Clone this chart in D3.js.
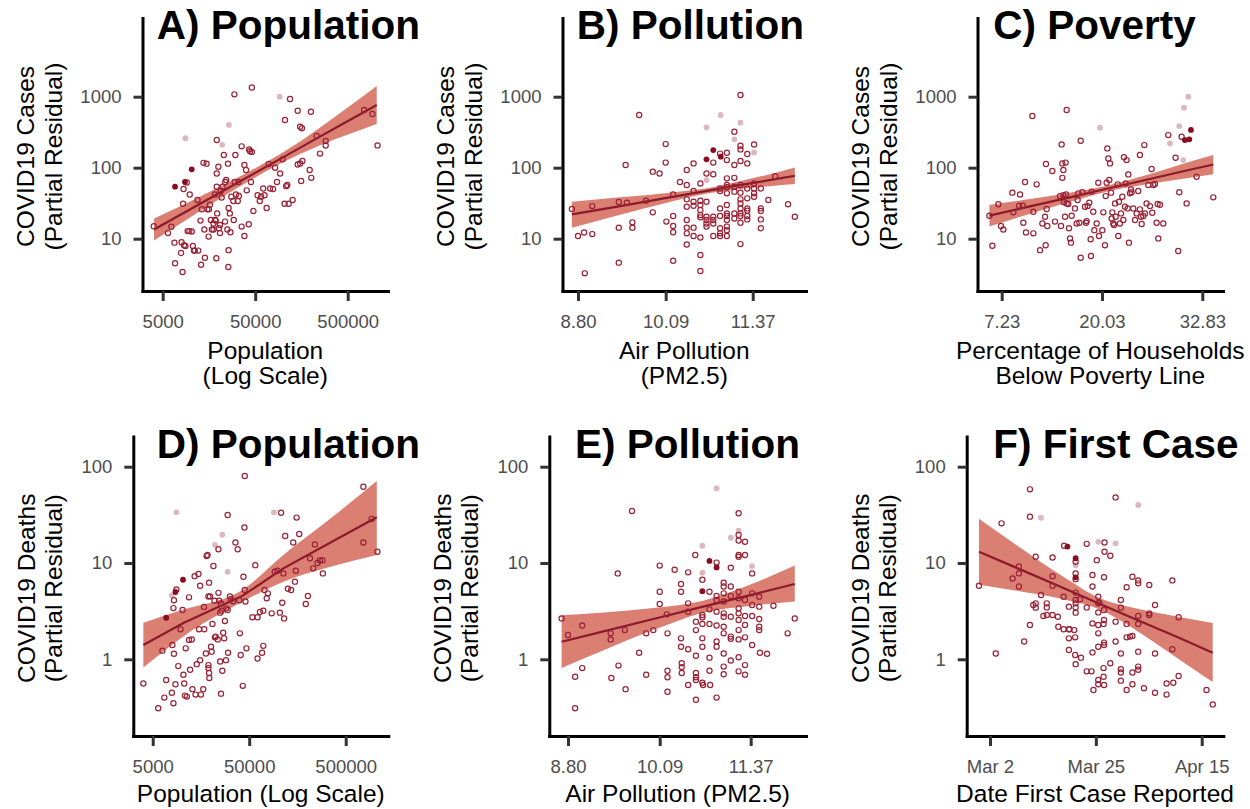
<!DOCTYPE html>
<html>
<head>
<meta charset="utf-8">
<script src="https://cdn.jsdelivr.net/npm/d3@7"></script>
<style>
  body { margin: 0; background: #fff; }
  svg text { font-family: "Liberation Sans", Arial, sans-serif; }
</style>
</head>
<body>
<svg id="chart" width="1250" height="809"></svg>
<script>
// tick values
var popTicks = [5000, 50000, 500000];
var pmTicks = [8.80, 10.09, 11.37];
var povTicks = [7.23, 20.03, 32.83];
var dateTicks = [1, 23, 45];           // days after Mar 1
var dateTickLabels = ["Mar 2", "Mar 25", "Apr 15"];
var casesTicks = [10, 100, 1000];
var deathsTicks = [1, 10, 100];

// A) cases vs population  [population, partial residual]
var casesPop = [[4000,15],[5700,12],[6200,14.7],[6700,8.8],[6800,4.5],[8000,8.9],[7900,6.3],[8200,3.4],[8400,50],[8300,31],[8500,8.1],[8800,7.9],[9100,62],[9300,12.8],[9700,12.8],[9800,42],[10300,12.6],[10600,7.9],[10900,6.8],[11100,6.8],[11900,35],[12100,6.8],[13000,4.3],[12800,18],[13200,26],[13800,117],[14100,13.5],[14300,5.4],[14900,114],[15200,26],[15700,10.7],[15800,26],[16200,30],[16600,18.3],[17000,13.5],[17700,16.4],[18400,18.3],[18700,18],[19000,5.3],[18400,42],[19200,245],[19200,83],[19200,54],[19400,22.7],[20000,103],[20300,14],[20800,15.6],[21200,47],[21700,38],[22200,54],[22900,151],[23600,17.4],[23700,63],[24300,67],[25000,13.5],[25400,114],[25800,6.9],[25600,4.0],[25800,27],[26600,22.7],[27000,12.3],[27600,39],[29000,34],[29300,18.3],[29800,1080],[30000,63],[30500,151],[31000,42],[32400,34],[33000,63],[35700,200],[38200,109],[39800,93],[40500,48],[42600,16],[43000,181],[44000,171],[45000,63],[46000,167],[47800,24.5],[46000,1350],[53000,41],[56000,34],[58000,39],[61000,51],[63000,41],[66500,27],[70000,113],[72500,51],[78000,50],[82000,100],[86000,63],[93000,83],[99000,131],[105000,470],[108000,55],[111000,57],[104000,31],[115000,31],[119000,930],[127000,35],[144000,635],[144000,111],[153000,378],[160000,360],[157000,65],[194000,93],[200000,615],[202000,72],[231000,280],[251000,158],[289000,238],[289000,205],[752000,650],[925000,570],[1050000,206],[153000,115],[162000,124],[35700,14.8],[33300,40],[20800,12],[38200,10.9],[17700,13.5]];
var casesPopDark = [[6800,54],[8700,63],[10300,95]];
var casesPopLight = [[8800,260],[26000,400],[22000,210],[92000,1000]];
// [x, fit, lower, upper]
var casesPopFit = [[4030,13.5,9.4,19.3],[12700,31.1,24.5,39.4],[44000,77,66,89.8],[101000,141,120,166],[231000,259,198,340],[487000,444,288,686],[1030000,764,412,1413]];

// B) cases vs PM2.5
var casesPm = [[8.71,26.2],[8.80,10.9],[8.89,12.2],[8.90,3.25],[9.01,11.6],[9.01,28.8],[9.40,33],[9.40,14.3],[9.40,4.6],[9.50,109],[9.52,32.1],[9.60,17],[9.60,14.3],[9.70,552],[9.80,34.3],[9.90,88],[9.90,23.5],[10.00,83],[10.09,215],[10.09,118],[10.10,17.4],[10.20,42],[10.20,20.9],[10.20,15.1],[10.20,12.3],[10.20,4.9],[10.30,63],[10.40,57],[10.40,93],[10.40,35.8],[10.40,28.2],[10.40,18.3],[10.40,14.3],[10.40,11.9],[10.40,8.3],[10.50,115],[10.50,47],[10.50,33.2],[10.50,29.1],[10.50,14.3],[10.50,10.9],[10.60,60],[10.60,34.3],[10.60,29.8],[10.60,25.3],[10.60,21.5],[10.60,20],[10.60,10.4],[10.60,5.9],[10.60,3.5],[10.69,83],[10.69,33.2],[10.69,20.4],[10.69,18.3],[10.69,16.4],[10.69,14.8],[10.79,118],[10.79,81],[10.79,20.4],[10.79,18.3],[10.79,16.4],[10.79,10.9],[10.89,158],[10.89,51],[10.89,26.7],[10.89,20.9],[10.89,14],[10.89,11.9],[10.89,10.9],[10.99,162],[10.99,128],[10.99,70.8],[10.99,57],[10.99,43.5],[10.99,29.8],[10.99,22.7],[10.99,20.9],[10.99,18.3],[10.99,14.8],[10.99,13.2],[10.99,10.9],[11.10,321],[11.10,109],[11.10,72],[11.10,46],[11.10,22.7],[11.10,19.3],[11.19,1055],[11.19,204],[11.19,181],[11.19,124],[11.19,57],[11.19,44.5],[11.19,35.8],[11.19,31.4],[11.19,26.7],[11.19,22.7],[11.19,20.9],[11.19,16.8],[11.19,8.4],[11.29,156],[11.29,115],[11.29,51],[11.29,37],[11.29,26.7],[11.29,24.8],[11.29,20.9],[11.29,18.7],[11.39,212],[11.39,60],[11.39,51],[11.39,43.5],[11.39,39],[11.49,51],[11.49,26.7],[11.49,24.5],[11.49,18.7],[11.49,14],[11.60,35],[11.70,76],[11.89,30.5],[11.99,20.4],[10.89,47],[11.10,54],[10.99,53]];
var casesPmDark = [[10.79,177],[10.69,131],[10.90,143]];
var casesPmLight = [[10.69,370],[10.90,552],[11.19,430],[11.10,251],[11.39,164],[10.69,67]];
var casesPmFit = [[8.71,22,14.3,33.2],[9.42,28.8,21.8,38.2],[10.15,38.2,33,44.5],[10.74,48,44,52],[11.13,55.8,49.5,63],[11.62,67,55,81],[11.99,77,58.9,101]];

// C) cases vs poverty
var casesPov = [[5.66,21.1],[6.04,7.97],[6.80,30.5],[7.14,15.1],[7.44,13.5],[8.59,44.5],[8.72,23.5],[9.57,42],[9.44,29.1],[9.91,29.1],[9.99,16.8],[10.21,63],[10.33,12.2],[11.27,11.9],[11.27,24.0],[11.14,535],[11.69,58.3],[12.12,6.9],[12.42,16.4],[12.76,20.4],[12.84,8.1],[12.88,113],[12.97,26.2],[13.05,15.1],[13.69,90],[14.03,17.4],[14.67,39.8],[14.80,15.1],[14.88,213],[14.97,72],[14.97,115],[15.10,93],[15.10,41],[15.18,32.5],[15.31,20.4],[15.39,118],[15.44,42],[15.52,649],[15.52,31.4],[15.73,30.8],[15.82,14.0],[15.95,10.1],[16.07,8.8],[16.16,21.1],[16.58,26.7],[16.80,16.4],[16.92,35],[17.01,43.5],[17.14,16.8],[17.31,240],[17.31,5.4],[17.52,45],[17.86,28.2],[17.99,16.8],[18.07,17.7],[18.20,28.8],[18.41,32.1],[18.58,9.8],[18.62,5.7],[18.71,46],[18.92,24.0],[19.05,13.2],[19.35,16.4],[19.56,61.5],[19.65,10.9],[20.07,13.2],[20.20,23.5],[20.41,8.1],[20.50,39.8],[20.62,61.5],[20.71,187],[20.84,135],[20.96,67],[21.05,115],[21.18,44.5],[21.26,19.3],[21.35,23.5],[21.47,16.4],[21.56,15.6],[21.69,31.4],[21.77,20.4],[22.03,58.3],[22.11,10.9],[22.20,33.2],[22.32,16.4],[22.45,22.7],[22.62,39],[22.75,18.3],[22.83,140],[22.96,28.2],[23.05,60],[23.17,128],[23.30,26.7],[23.39,80.5],[23.47,8.8],[23.60,43.5],[23.73,49.5],[23.81,45],[24.02,26.7],[24.24,18.3],[24.45,22.7],[24.66,46.9],[24.87,151],[24.87,25.9],[25.00,20.4],[25.09,16.1],[25.30,20.9],[25.43,208],[25.51,22.7],[25.72,31.4],[25.94,57],[26.15,28.8],[26.36,96],[26.45,23.2],[26.57,57],[26.79,58.9],[27.00,16.8],[27.13,30.8],[27.21,10.1],[27.43,30.1],[27.85,16.4],[28.49,288],[29.42,138],[29.76,6.7],[29.89,45],[30.19,273],[30.83,31.4],[32.10,74.6],[34.23,38.2]];
var casesPovDark = [[30.61,245],[31.17,251],[31.38,340]];
var casesPovLight = [[19.77,366],[28.70,220],[29.89,386],[30.49,700],[31.04,1000],[30.40,128]];
var casesPovFit = [[5.66,21.1,14.8,29.8],[10.84,28.5,22.5,36.2],[15.95,38.2,33.2,44.5],[20.62,50.6,46,55.8],[25.72,67.7,58.3,79],[29.97,86.9,68.5,110],[34.23,111,81,151]];

// D) deaths vs population
var deathsPop = [[4000,0.56],[5700,0.31],[6300,1.23],[6600,0.40],[6900,0.61],[7900,0.45],[8000,1.41],[8200,0.35],[8300,4.1],[8200,3.4],[8300,1.14],[8600,0.55],[8800,5.3],[9200,0.85],[9700,2.05],[10200,3.25],[10400,0.69],[10600,0.56],[10800,0.42],[11000,1.3],[11300,0.41],[11900,4.4],[11900,1.59],[12200,0.78],[12700,1.61],[12900,0.49],[13600,7.3],[13900,0.43],[14300,0.89],[14900,7.7],[15100,2.05],[15500,0.98],[15800,0.43],[15500,5.8],[16700,0.49],[17000,3.5],[17100,2.05],[17800,1.15],[18100,11.8],[18500,12.1],[18900,4.5],[18900,0.87],[18900,0.81],[19200,6.25],[19200,0.72],[19300,0.64],[19600,4.5],[20100,1.35],[20400,1.2],[20800,2.33],[21300,9.3],[21800,4.06],[22100,1.69],[22500,1.72],[23600,1.61],[24000,13.9],[24000,4.9],[24400,4.06],[25000,3.05],[25000,0.95],[25500,3.8],[25500,0.44],[25900,3.2],[26300,0.76],[26900,1.89],[27500,1.65],[28000,2.5],[28700,0.98],[29000,3.38],[29900,31.5],[29900,3.25],[30200,1.17],[31600,4.5],[32300,4.2],[34000,4.0],[36000,16.3],[38000,13.9],[39500,4.1],[40000,1.86],[40800,1.11],[42900,0.53],[43600,7.2],[44600,23.4],[45000,80],[45000,5.25],[45700,3.98],[46800,1.3],[54000,2.73],[57800,9.5],[61000,2.73],[61000,1.02],[64600,3.1],[68000,1.17],[70000,3.2],[70000,1.38],[72000,5.25],[76000,4.3],[78000,4.84],[85500,3.0],[92000,8.1],[98000,8.3],[104000,3.05],[107000,33.3],[110000,3.87],[113000,7.8],[115000,2.66],[118000,19.1],[126000,5.4],[136000,5.25],[143000,16.3],[149000,6.4],[152000,8.3],[155000,29.6],[165000,20],[193000,3.75],[203000,4.54],[213000,11.2],[230000,8.8],[240000,15.6],[255000,10],[270000,10.6],[287000,10.7],[290000,7.8],[762000,62],[762000,16.3],[929000,28.6],[1065000,13.1]];
var deathsPopDark = [[6900,2.7],[8600,5.0],[10300,6.7]];
var deathsPopLight = [[8800,33.6],[26300,19.7],[22100,15.4],[29900,8.1],[90000,33.6],[7900,4.6]];
var deathsPopFit = [[4000,1.41,0.82,2.4],[10400,2.38,1.73,3.28],[42900,4.58,3.98,5.29],[113000,8.8,6.4,12.1],[372000,16.9,9.3,30.5],[1050000,29.8,12.1,71]];

// E) deaths vs PM2.5
var deathsPm = [[8.71,2.66],[8.80,1.79],[8.90,0.66],[8.90,0.31],[9.00,2.24],[9.00,0.81],[9.40,1.86],[9.40,1.61],[9.41,0.64],[9.50,7.8],[9.51,0.86],[9.60,2.01],[9.61,0.49],[9.70,34.7],[9.80,1.17],[9.90,0.69],[9.90,1.86],[10.00,2.01],[10.09,9.4],[10.09,5.03],[10.09,3.75],[10.19,2.93],[10.20,1.86],[10.20,0.76],[10.20,0.65],[10.20,0.46],[10.30,8.5],[10.39,6.05],[10.39,5.03],[10.39,1.65],[10.39,1.35],[10.40,0.91],[10.40,0.83],[10.40,0.72],[10.49,8.0],[10.49,3.81],[10.49,3.12],[10.49,1.27],[10.49,0.54],[10.59,12.1],[10.60,2.46],[10.60,2.01],[10.60,1.09],[10.60,0.72],[10.60,0.65],[10.60,0.61],[10.60,0.38],[10.69,6.7],[10.69,2.88],[10.69,2.73],[10.69,2.33],[10.69,1.65],[10.69,1.35],[10.69,0.57],[10.70,0.54],[10.79,5.03],[10.79,3.3],[10.79,2.33],[10.79,1.04],[10.79,0.76],[10.80,0.54],[10.89,10.1],[10.89,4.13],[10.89,3.12],[10.89,2.24],[10.89,1.53],[10.89,1.35],[10.89,0.40],[10.99,6.25],[10.99,5.7],[10.99,4.84],[10.99,3.98],[10.99,3.0],[10.99,2.77],[10.99,2.18],[10.99,1.86],[10.99,1.15],[10.99,0.84],[10.99,0.70],[11.09,8.95],[11.09,5.7],[11.09,4.54],[11.09,2.77],[11.09,1.72],[11.09,0.97],[11.20,32.8],[11.20,19.5],[11.20,17.1],[11.20,12.1],[11.20,11.6],[11.20,5.03],[11.20,4.3],[11.20,3.38],[11.20,3.0],[11.20,2.56],[11.20,2.01],[11.20,1.61],[11.20,1.05],[11.20,0.75],[11.29,16.6],[11.29,12.1],[11.29,4.13],[11.29,2.82],[11.29,2.27],[11.29,1.69],[11.29,0.87],[11.29,0.69],[11.39,7.8],[11.39,4.84],[11.39,3.66],[11.39,2.82],[11.39,1.41],[11.49,4.47],[11.49,3.52],[11.49,2.62],[11.49,2.18],[11.49,2.01],[11.50,1.17],[11.60,1.14],[11.69,3.6],[11.89,1.86],[11.99,2.66],[11.09,1.63],[10.89,4.54]];
var deathsPmDark = [[10.79,10.5],[10.89,9.0],[10.69,5.1]];
var deathsPmLight = [[10.89,59.6],[10.69,15.1],[11.09,18.3],[11.20,21.7],[11.39,9.3],[10.69,7.94]];
var deathsPmFit = [[8.71,1.52,0.81,2.86],[9.30,1.95,1.24,3.07],[10.00,2.62,2.01,3.41],[10.70,3.52,3.05,4.06],[11.41,4.73,3.63,6.15],[11.99,6.05,3.98,9.4]];

// F) deaths vs date of first case (days after Mar 1)
var deathsDate = [[-1.3,5.8],[2.2,1.15],[3.4,25.8],[5.7,6.9],[7.0,9.2],[7.0,7.8],[7.0,5.7],[8.1,1.53],[9.3,2.27],[9.3,30.3],[9.3,58.2],[10.5,11.6],[10.5,3.81],[10.5,3.44],[11.6,4.65],[12.8,3.81],[12.8,3.46],[12.8,2.88],[14.0,11.4],[14.0,7.3],[14.0,5.8],[14.0,2.88],[15.1,2.77],[15.2,2.18],[16.3,4.47],[16.3,2.05],[16.4,15.1],[17.4,3.52],[17.4,2.05],[17.4,1.65],[17.4,1.25],[17.5,2.05],[18.5,2.01],[18.7,1.69],[18.7,1.11],[18.8,0.89],[18.8,10.3],[18.8,7.8],[18.8,6.8],[18.8,4.93],[18.8,4.13],[18.8,3.81],[18.8,3.46],[18.8,3.05],[19.7,4.2],[19.9,1.04],[21.1,15.8],[21.1,3.46],[21.1,0.75],[22.1,0.75],[22.3,7.5],[22.3,5.7],[22.3,2.36],[22.3,1.18],[22.5,0.48],[23.2,10.7],[23.5,4.47],[23.5,3.81],[23.5,3.07],[23.5,2.27],[23.5,1.86],[23.5,1.35],[23.5,0.61],[23.5,0.55],[23.7,3.87],[24.6,2.33],[24.6,0.81],[24.6,0.66],[24.7,7.1],[24.7,3.25],[24.7,2.56],[24.7,1.49],[24.7,1.41],[24.7,0.54],[24.8,13.1],[24.8,16.3],[26.0,11.9],[26.0,0.91],[27.1,48],[27.1,1.53],[27.1,2.46],[28.2,4.13],[28.2,3.44],[28.2,1.15],[28.2,0.79],[28.2,0.73],[28.2,0.60],[29.4,5.6],[29.4,2.33],[29.4,1.69],[29.4,0.48],[30.1,1.72],[30.6,7.2],[30.6,1.75],[30.6,0.73],[30.6,0.55],[31.8,6.6],[31.8,6.15],[31.8,2.82],[31.8,2.33],[31.8,1.2],[31.8,0.84],[31.8,0.78],[33.0,0.50],[34.1,5.9],[34.1,3.0],[34.1,2.88],[35.3,3.66],[35.3,1.15],[35.3,0.45],[37.7,0.56],[37.7,0.43],[38.9,6.6],[38.9,1.27],[39.1,0.57],[40.2,2.73],[40.2,0.67],[46.0,0.48],[47.3,0.34],[10.0,3.66],[12.1,2.82]];
var deathsDateDark = [[17.1,14.8],[18.8,11.2],[18.8,7.1]];
var deathsDateLight = [[11.6,29.5],[31.8,40],[23.5,16.6],[27.1,16],[18.8,9.5]];
var deathsDateFit = [[-1.29,13.1,5.96,28.8],[6.54,8.9,5.16,15.3],[16.25,5.5,4.21,7.2],[23.87,3.76,3.28,4.3],[31.49,2.58,1.98,3.36],[39.8,1.71,1.04,2.79],[47.29,1.17,0.58,2.38]];

var svg = d3.select("#chart");
var fmtInt = d3.format("d"), fmt2 = d3.format(".2f");

var topRow = {y0: 291, y1: 18, yTicks: casesTicks, yAnchor: [238.7, 96.7], yTitle: ["COVID19 Cases", "(Partial Residual)"], yOff: [108.5, 81], titleY: 39};
var botRow = {y0: 736, y1: 436.5, yTicks: deathsTicks, yAnchor: [659.3, 466.7], yTitle: ["COVID19 Deaths", "(Partial Residual)"], yOff: [98, 71], titleY: 458};

var panels = [
  {row: topRow, title: "A) Population", titleX: 156.7, x0: 142.5, x1: 388, log: true, xTicks: popTicks, xAnchor: [162.7, 347.7], fmt: fmtInt,
   xLabel: ["Population", "(Log Scale)"], labelY: [359, 384], pts: casesPop, dark: casesPopDark, light: casesPopLight, fit: casesPopFit},
  {row: topRow, title: "B) Pollution", titleX: 576.7, x0: 562.5, x1: 806, log: false, xTicks: pmTicks, xAnchor: [578, 752.7], fmt: fmt2,
   xLabel: ["Air Pollution", "(PM2.5)"], labelY: [359, 384], pts: casesPm, dark: casesPmDark, light: casesPmLight, fit: casesPmFit},
  {row: topRow, title: "C) Poverty", titleX: 993.3, x0: 977.5, x1: 1223, log: false, xTicks: povTicks, xAnchor: [1001.7, 1202.3], fmt: fmt2,
   xLabel: ["Percentage of Households", "Below Poverty Line"], labelY: [359, 384], pts: casesPov, dark: casesPovDark, light: casesPovLight, fit: casesPovFit},
  {row: botRow, title: "D) Population", titleX: 156.7, x0: 133.3, x1: 388.3, log: true, xTicks: popTicks, xAnchor: [152.7, 345.7], fmt: fmtInt,
   xLabel: ["Population (Log Scale)"], labelY: [802], pts: deathsPop, dark: deathsPopDark, light: deathsPopLight, fit: deathsPopFit},
  {row: botRow, title: "E) Pollution", titleX: 575, x0: 549.3, x1: 806, log: false, xTicks: pmTicks, xAnchor: [568, 750.7], fmt: fmt2,
   xLabel: ["Air Pollution (PM2.5)"], labelY: [802], pts: deathsPm, dark: deathsPmDark, light: deathsPmLight, fit: deathsPmFit},
  {row: botRow, title: "F) First Case", titleX: 993.3, x0: 966.7, x1: 1223.3, log: false, xTicks: dateTicks, xAnchor: [990, 1201.7],
   fmt: function(d, i){ return dateTickLabels[i]; },
   xLabel: ["Date First Case Reported"], labelY: [802], pts: deathsDate, dark: deathsDateDark, light: deathsDateLight, fit: deathsDateFit}
];

function styleAxis(g){
  g.attr("font-size", null).attr("font-family", null);
  g.select(".domain").attr("stroke", "#000").attr("stroke-width", 3).attr("stroke-linecap", "square");
  g.selectAll(".tick line").attr("stroke", "#333").attr("stroke-width", 3);
  g.selectAll(".tick text").attr("fill", "#4d4d4d").style("font-size", "18.5px");
}

panels.forEach(function(p){
  var r = p.row;
  // scales anchored on the tick marks, then stretched to the axis extents
  var xs = (p.log ? d3.scaleLog() : d3.scaleLinear())
      .domain([p.xTicks[0], p.xTicks[2]]).range(p.xAnchor);
  xs.domain([xs.invert(p.x0), xs.invert(p.x1)]).range([p.x0, p.x1]);
  var ys = d3.scaleLog().domain([r.yTicks[0], r.yTicks[2]]).range(r.yAnchor);
  ys.domain([ys.invert(r.y0), ys.invert(r.y1)]).range([r.y0, r.y1]);

  var g = svg.append("g");

  // confidence band and fitted line
  var band = d3.area().curve(d3.curveMonotoneX)
      .x(function(d){ return xs(d[0]); })
      .y0(function(d){ return ys(d[2]); })
      .y1(function(d){ return ys(d[3]); });
  g.append("path").datum(p.fit).attr("d", band)
      .attr("fill", "#d6685a").attr("fill-opacity", 0.85);

  g.append("path").datum(p.fit)
      .attr("d", d3.line().x(function(d){ return xs(d[0]); }).y(function(d){ return ys(d[1]); }))
      .attr("fill", "none").attr("stroke", "#8b1a2b").attr("stroke-width", 2.2);

  // points
  g.append("g").selectAll("circle").data(p.light).enter().append("circle")
      .attr("cx", function(d){ return xs(d[0]); }).attr("cy", function(d){ return ys(d[1]); })
      .attr("r", 2.9).attr("fill", "#dbb7be");
  g.append("g").selectAll("circle").data(p.pts).enter().append("circle")
      .attr("cx", function(d){ return xs(d[0]); }).attr("cy", function(d){ return ys(d[1]); })
      .attr("r", 2.6).attr("fill", "none").attr("stroke", "#9a2236").attr("stroke-width", 1.2);
  g.append("g").selectAll("circle").data(p.dark).enter().append("circle")
      .attr("cx", function(d){ return xs(d[0]); }).attr("cy", function(d){ return ys(d[1]); })
      .attr("r", 2.9).attr("fill", "#8a0c1f");

  // axes
  g.append("g").attr("transform", "translate(0," + r.y0 + ")")
      .call(d3.axisBottom(xs).tickValues(p.xTicks).tickFormat(p.fmt).tickSize(10).tickPadding(14).tickSizeOuter(0))
      .call(styleAxis);
  g.append("g").attr("transform", "translate(" + p.x0 + ",0)")
      .call(d3.axisLeft(ys).tickValues(r.yTicks).tickFormat(fmtInt).tickSize(9).tickPadding(12).tickSizeOuter(0))
      .call(styleAxis);

  // panel title
  g.append("text").attr("x", p.titleX).attr("y", r.titleY)
      .attr("font-weight", "bold").attr("font-size", 40.5).attr("fill", "#000")
      .text(p.title);

  // x axis title
  var cx = (p.x0 + p.x1) / 2;
  p.xLabel.forEach(function(t, i){
    g.append("text").attr("x", cx).attr("y", p.labelY[i]).attr("text-anchor", "middle")
        .attr("font-size", 24.5).attr("fill", "#000").text(t);
  });

  // y axis title
  var cy = (r.y0 + r.y1) / 2 + 2;
  r.yTitle.forEach(function(t, i){
    g.append("text").attr("transform", "translate(" + (p.x0 - r.yOff[i]) + "," + cy + ") rotate(-90)")
        .attr("text-anchor", "middle").attr("font-size", 24.5).attr("fill", "#000").text(t);
  });
});
</script>
</body>
</html>
